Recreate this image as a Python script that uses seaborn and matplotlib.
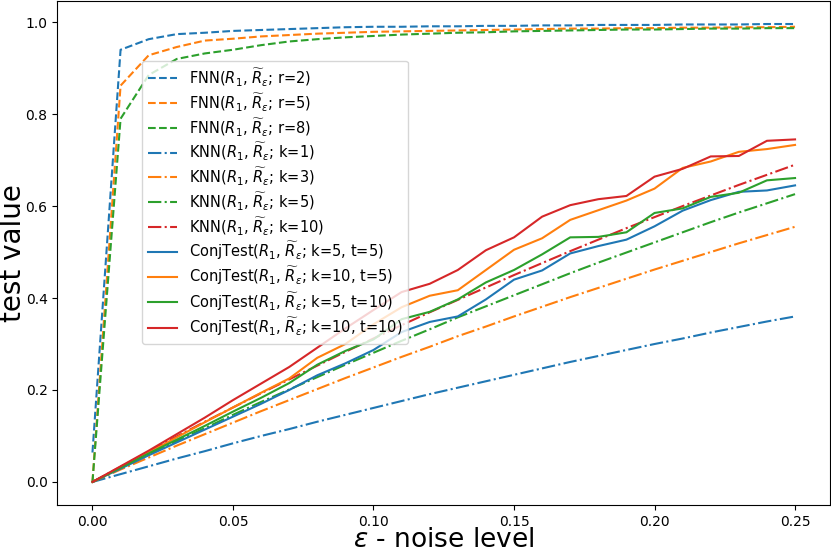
import numpy as np
import matplotlib
matplotlib.use("Agg")
import matplotlib.pyplot as plt
import seaborn as sns

eps = [0.00, 0.01, 0.02, 0.03, 0.04, 0.05, 0.06, 0.07, 0.08, 0.09, 0.10, 0.11, 0.12,
       0.13, 0.14, 0.15, 0.16, 0.17, 0.18, 0.19, 0.20, 0.21, 0.22, 0.23, 0.24, 0.25]

fnn_r2 = [0.064, 0.940, 0.963, 0.974, 0.977, 0.981, 0.983, 0.985, 0.987, 0.989, 0.990, 0.990, 0.991,
          0.991, 0.992, 0.992, 0.993, 0.993, 0.994, 0.994, 0.994, 0.995, 0.995, 0.995, 0.996, 0.996]
fnn_r5 = [0.000, 0.862, 0.928, 0.946, 0.960, 0.964, 0.969, 0.972, 0.975, 0.977, 0.979, 0.980, 0.981,
          0.982, 0.983, 0.984, 0.985, 0.986, 0.986, 0.987, 0.987, 0.988, 0.988, 0.989, 0.989, 0.990]
fnn_r8 = [0.000, 0.790, 0.885, 0.920, 0.932, 0.940, 0.950, 0.958, 0.963, 0.967, 0.970, 0.973, 0.975,
          0.977, 0.978, 0.980, 0.981, 0.982, 0.983, 0.984, 0.984, 0.985, 0.986, 0.986, 0.987, 0.987]

knn_k1 = [0.0, 0.017, 0.034, 0.051, 0.067, 0.084, 0.100, 0.115, 0.131, 0.146, 0.161, 0.176, 0.191,
          0.205, 0.219, 0.233, 0.247, 0.261, 0.274, 0.287, 0.300, 0.312, 0.325, 0.337, 0.349, 0.360]
knn_k3 = [0.0, 0.027, 0.053, 0.079, 0.104, 0.129, 0.154, 0.178, 0.202, 0.226, 0.249, 0.272, 0.294,
          0.317, 0.338, 0.360, 0.381, 0.402, 0.422, 0.442, 0.462, 0.481, 0.500, 0.519, 0.537, 0.555]
knn_k5 = [0.0, 0.030, 0.060, 0.089, 0.117, 0.146, 0.174, 0.201, 0.228, 0.255, 0.281, 0.307, 0.332,
          0.358, 0.382, 0.406, 0.430, 0.454, 0.477, 0.499, 0.521, 0.543, 0.565, 0.586, 0.606, 0.626]
knn_k10 = [0.0, 0.033, 0.066, 0.099, 0.131, 0.162, 0.193, 0.223, 0.253, 0.283, 0.312, 0.341, 0.369,
           0.396, 0.423, 0.450, 0.476, 0.502, 0.527, 0.552, 0.576, 0.600, 0.623, 0.646, 0.668, 0.690]

conj_k5_t5 = [0.0, 0.029, 0.058, 0.086, 0.114, 0.142, 0.170, 0.200, 0.232, 0.258, 0.287, 0.326, 0.348,
              0.360, 0.397, 0.440, 0.460, 0.497, 0.513, 0.527, 0.556, 0.590, 0.613, 0.631, 0.634, 0.645]
conj_k10_t5 = [0.0, 0.032, 0.064, 0.097, 0.130, 0.162, 0.194, 0.225, 0.270, 0.300, 0.343, 0.380, 0.405,
               0.417, 0.461, 0.505, 0.530, 0.570, 0.591, 0.612, 0.638, 0.683, 0.697, 0.718, 0.724, 0.733]
conj_k5_t10 = [0.0, 0.031, 0.062, 0.092, 0.122, 0.153, 0.183, 0.215, 0.255, 0.285, 0.310, 0.354, 0.370,
               0.397, 0.434, 0.461, 0.495, 0.532, 0.533, 0.543, 0.585, 0.595, 0.620, 0.629, 0.656, 0.661]
conj_k10_t10 = [0.0, 0.034, 0.068, 0.104, 0.140, 0.178, 0.214, 0.250, 0.292, 0.334, 0.374, 0.413, 0.431,
                0.461, 0.504, 0.532, 0.577, 0.602, 0.615, 0.622, 0.664, 0.681, 0.708, 0.709, 0.742, 0.745]

R = r"$R_1$, $\widetilde{R}_\varepsilon$"
series = [
    (fnn_r2, f"FNN({R}; r=2)", "C0", "--"),
    (fnn_r5, f"FNN({R}; r=5)", "C1", "--"),
    (fnn_r8, f"FNN({R}; r=8)", "C2", "--"),
    (knn_k1, f"KNN({R}; k=1)", "C0", "-."),
    (knn_k3, f"KNN({R}; k=3)", "C1", "-."),
    (knn_k5, f"KNN({R}; k=5)", "C2", "-."),
    (knn_k10, f"KNN({R}; k=10)", "C3", "-."),
    (conj_k5_t5, f"ConjTest({R}; k=5, t=5)", "C0", "-"),
    (conj_k10_t5, f"ConjTest({R}; k=10, t=5)", "C1", "-"),
    (conj_k5_t10, f"ConjTest({R}; k=5, t=10)", "C2", "-"),
    (conj_k10_t10, f"ConjTest({R}; k=10, t=10)", "C3", "-"),
]

fig, ax = plt.subplots(figsize=(8.31, 5.56), dpi=100)
for vals, lab, col, ls in series:
    sns.lineplot(x=eps, y=vals, color=col, linestyle=ls, linewidth=1.5, label=lab, ax=ax)

ax.set_xticks([0.0, 0.05, 0.10, 0.15, 0.20, 0.25])
ax.set_xlabel(r"$\varepsilon$ - noise level", fontsize=19, labelpad=-1)
ax.set_ylabel("test value", fontsize=20, labelpad=-1)
ax.legend(loc="upper left", bbox_to_anchor=(0.11, 0.882), borderaxespad=0,
          fontsize=10.5, labelspacing=0.2)

fig.subplots_adjust(left=0.069, right=0.999, bottom=0.092, top=0.998)
fig.savefig("out.png", dpi=100)
